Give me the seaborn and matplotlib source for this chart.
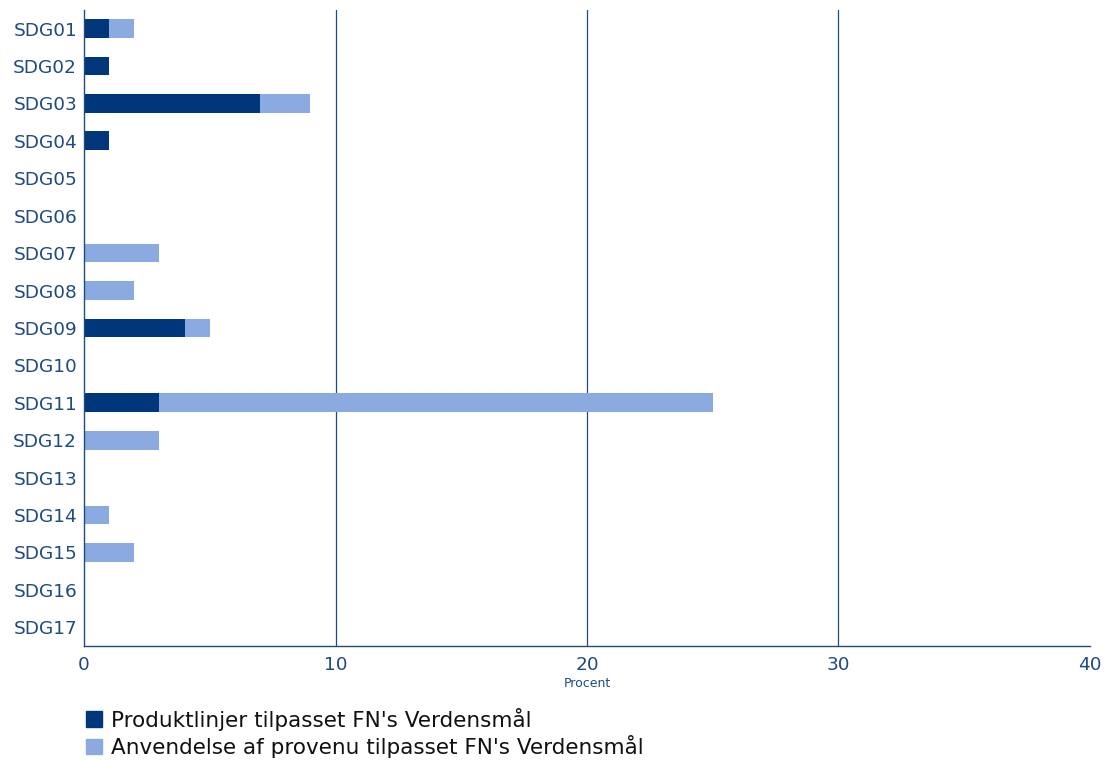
import pandas as pd
import seaborn as sns
import matplotlib.pyplot as plt
from matplotlib.patches import Patch

categories = ['SDG%02d' % i for i in range(1, 18)]
produktlinjer = [1, 1, 7, 1, 0, 0, 0, 0, 4, 0, 3, 0, 0, 0, 0, 0, 0]
provenu = [1, 0, 2, 0, 0, 0, 3, 2, 1, 0, 22, 3, 0, 1, 2, 0, 0]

df = pd.DataFrame({'sdg': categories, 'prod': produktlinjer, 'prov': provenu})
df['total'] = df['prod'] + df['prov']

dark = '#00377a'
light = '#8aaae0'
navy = '#1f4a85'

sns.set_style('white')
plt.rcParams['font.family'] = ['DejaVu Sans']

fig = plt.figure(figsize=(11.04, 7.6), dpi=100)
ax = fig.add_axes([0.0761, 0.15, 0.9112, 0.837])

# stacked: total in light, produktlinjer drawn on top
sns.barplot(data=df, x='total', y='sdg', color=light, width=0.5, saturation=1,
            linewidth=0, ax=ax)
sns.barplot(data=df, x='prod', y='sdg', color=dark, width=0.5, saturation=1,
            linewidth=0, ax=ax)

ax.set_xlim(0, 40)
ax.set_ylim(16.5, -0.5)
ax.set_xticks([0, 10, 20, 30, 40])
for v in [10, 20, 30]:
    ax.axvline(v, color=navy, lw=0.9, zorder=0)

for s in ['top', 'right']:
    ax.spines[s].set_visible(False)
for s in ['left', 'bottom']:
    ax.spines[s].set_color(navy)
    ax.spines[s].set_linewidth(1)

ax.tick_params(axis='both', colors=navy, labelsize=13.3, length=4, width=1)
ax.tick_params(axis='y', pad=1)
ax.set_ylabel('')
ax.set_xlabel('Procent', color=navy, fontsize=9, labelpad=2)

handles = [Patch(color=dark, label="Produktlinjer tilpasset FN's Verdensmål"),
           Patch(color=light, label="Anvendelse af provenu tilpasset FN's Verdensmål")]
fig.legend(handles=handles, loc='upper left', bbox_to_anchor=(0.07, 0.08),
           frameon=False, fontsize=15.5, handlelength=0.75, handleheight=0.75,
           handletextpad=0.4, labelspacing=0.2, borderaxespad=0,
           labelcolor='#111111')

fig.savefig('out.png', dpi=100)
